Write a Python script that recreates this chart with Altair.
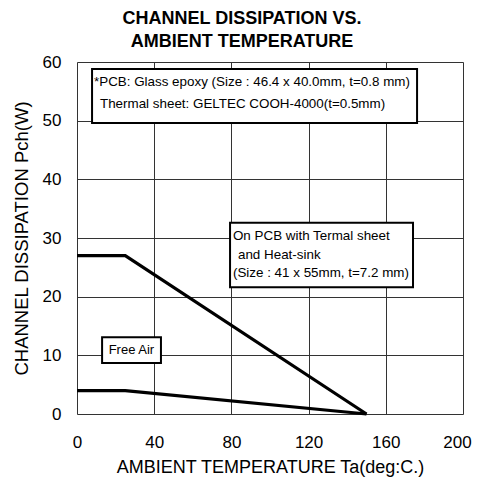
import altair as alt
import pandas as pd

# Curves
temp = [0, 25, 150]
heatsink = [27, 27, 0]
freeair = [4, 4, 0]

# Annotation boxes (data units)
box_x1 = [7.8, 79.3, 13.0]
box_x2 = [176.2, 174.1, 43.5]
box_y1 = [49.6, 21.6, 8.7]
box_y2 = [58.8, 32.6, 13.1]

# Annotation texts
txt = [
    "*PCB: Glass epoxy (Size : 46.4 x 40.0mm, t=0.8 mm)",
    "Thermal sheet: GELTEC COOH-4000(t=0.5mm)",
    "On PCB with Termal sheet",
    "and Heat-sink",
    "(Size : 41 x 55mm, t=7.2 mm)",
]
txt_x = [8.8, 11.9, 80.8, 83.4, 80.8]
txt_y = [56.6, 52.8, 30.3, 27.1, 24.0]
free_label = ["Free Air"]
free_x = [28.2]
free_y = [10.9]

xticks = list(range(0, 201, 20))
yticks = list(range(0, 61, 10))

FONT = "Liberation Sans"

lines_df = pd.DataFrame({
    "t": temp * 2,
    "p": heatsink + freeair,
    "s": ["heatsink"] * 3 + ["freeair"] * 3,
})
box_df = pd.DataFrame({"x1": box_x1, "x2": box_x2, "y1": box_y1, "y2": box_y2})
txt_df = pd.DataFrame({"x": txt_x, "y": txt_y, "t": txt})
free_df = pd.DataFrame({"x": free_x, "y": free_y, "t": free_label})

xscale = alt.Scale(domain=[0, 200], nice=False)
yscale = alt.Scale(domain=[0, 60], nice=False)

xaxis = alt.Axis(
    values=xticks, grid=True, gridColor="#333", gridWidth=1, domain=False, ticks=False,
    labelExpr="datum.value % 40 == 0 ? datum.label : ''", labelFlush=False,
    labelOffset={"condition": {"test": "datum.value === 200", "value": -6}, "value": 0},
    labelFontSize=17, labelFont=FONT, labelColor="black", labelPadding=20,
    title="AMBIENT TEMPERATURE Ta(deg:C.)", titleFont=FONT, titleFontSize=18,
    titleFontWeight="normal", titleColor="black", titlePadding=8,
)
yaxis = alt.Axis(
    values=yticks, grid=True, gridColor="#333", gridWidth=1, domain=False, ticks=False,
    labelFlush=False,
    labelFontSize=17, labelFont=FONT, labelColor="black", labelPadding=16,
    title="CHANNEL DISSIPATION Pch(W)", titleFont=FONT, titleFontSize=18.5,
    titleFontWeight="normal", titleColor="black", titlePadding=11,
)

lines = alt.Chart(lines_df).mark_line(color="black", strokeWidth=3.2).encode(
    x=alt.X("t:Q", scale=xscale, axis=xaxis),
    y=alt.Y("p:Q", scale=yscale, axis=yaxis),
    detail="s:N",
)

boxes = alt.Chart(box_df).mark_rect(fill="white", stroke="black", strokeWidth=2).encode(
    x=alt.X("x1:Q", scale=xscale), x2="x2:Q",
    y=alt.Y("y1:Q", scale=yscale), y2="y2:Q",
)

texts = alt.Chart(txt_df).mark_text(
    align="left", baseline="middle", fontSize=13.4, font=FONT, color="black"
).encode(
    x=alt.X("x:Q", scale=xscale), y=alt.Y("y:Q", scale=yscale), text="t:N"
)

free = alt.Chart(free_df).mark_text(
    align="center", baseline="middle", fontSize=13, font=FONT, color="black"
).encode(
    x=alt.X("x:Q", scale=xscale), y=alt.Y("y:Q", scale=yscale), text="t:N"
)

chart = alt.layer(lines, boxes, texts, free).properties(
    width=386, height=352,
    autosize=alt.AutoSizeParams(type="none"),
    padding={"left": 69, "top": 54, "right": 9, "bottom": 64},
    title=alt.TitleParams(
        ["CHANNEL DISSIPATION VS.", "AMBIENT TEMPERATURE"],
        font=FONT, fontSize=18, fontWeight="bold", color="black",
        anchor="middle", lineHeight=23, offset=2, dx=-28,
    ),
).configure_view(stroke="black", strokeWidth=1.5).configure(background="white")

chart.save("out.html", embed_options={"renderer": "svg", "actions": False})
